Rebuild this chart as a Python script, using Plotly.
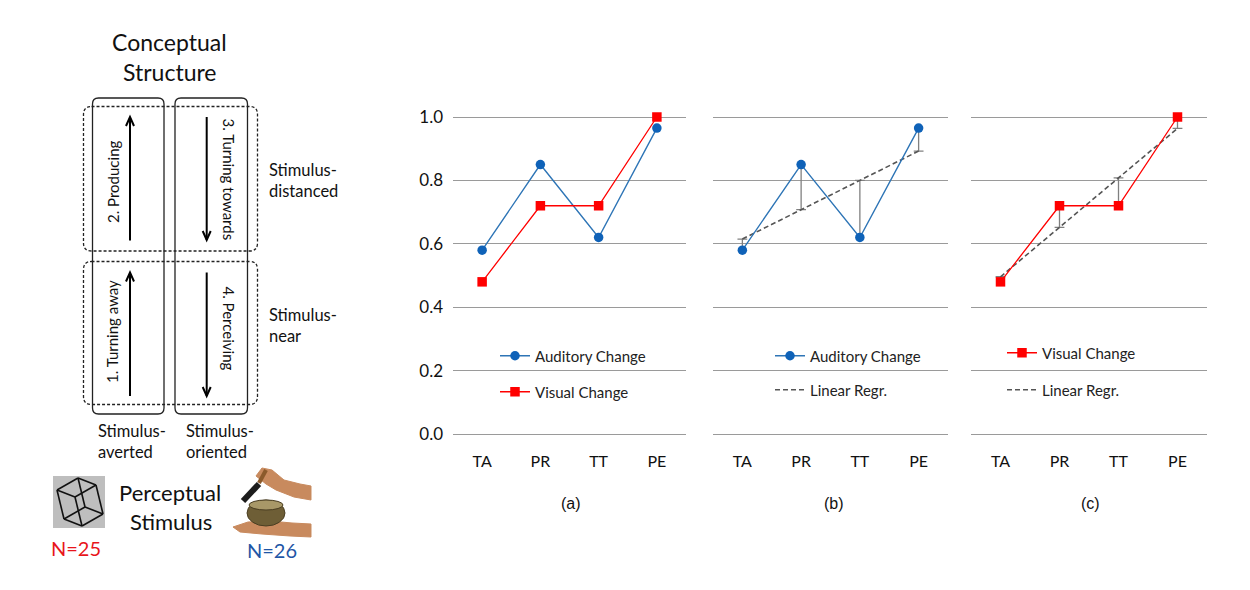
import numpy as np
import plotly.graph_objects as go

# page is 1250x590; the html body has an 8px margin, so the figure is 1234x574
PAGE_W, PAGE_H = 1250, 590
OFF = 8
W, H = PAGE_W - 2 * OFF, PAGE_H - 2 * OFF

# ---------------- data ----------------
categories = ["TA", "PR", "TT", "PE"]
auditory = [0.58, 0.85, 0.62, 0.965]
visual = [0.48, 0.72, 0.72, 1.0]
y_ticks = [0.0, 0.2, 0.4, 0.6, 0.8, 1.0]
y_tick_labels = ["0.0", "0.2", "0.4", "0.6", "0.8", "1.0"]
panel_labels = ["(a)", "(b)", "(c)"]

xpos = list(range(len(categories)))


def linfit(vals):
    k, b = np.polyfit(xpos, vals, 1)
    return [k * x + b for x in xpos]


reg_aud = linfit(auditory)
reg_vis = linfit(visual)

BLUE_L = "#2E75B6"
BLUE_M = "#0F62B8"
RED = "#FF0000"
GRID = "#9A9A9A"
FONT = "Lato"


def X(px):
    return (px - OFF) / W


def Y(py):
    return 1 - (py - OFF) / H


fig = go.Figure()

# ---------- panel (a) ----------
fig.add_trace(go.Scatter(x=xpos, y=auditory, mode="lines+markers", name="Auditory Change",
                         line=dict(color=BLUE_L, width=1.4),
                         marker=dict(symbol="circle", size=9.5, color=BLUE_M),
                         xaxis="x", yaxis="y", legend="legend", cliponaxis=False))
fig.add_trace(go.Scatter(x=xpos, y=visual, mode="lines+markers", name="Visual Change",
                         line=dict(color=RED, width=1.3),
                         marker=dict(symbol="square", size=9.5, color=RED),
                         xaxis="x", yaxis="y", legend="legend2", cliponaxis=False))


def residuals(vals, reg, xa, ya):
    xs, ys = [], []
    for x, v, r in zip(xpos, vals, reg):
        xs += [x, x, None]
        ys += [v, r, None]
    fig.add_trace(go.Scatter(x=xs, y=ys, mode="lines", line=dict(color="#808080", width=1.3),
                             showlegend=False, xaxis=xa, yaxis=ya, hoverinfo="skip"))
    fig.add_trace(go.Scatter(x=xpos, y=reg, mode="markers",
                             marker=dict(symbol="line-ew", size=7,
                                         line=dict(color="#808080", width=1.3)),
                             showlegend=False, xaxis=xa, yaxis=ya, hoverinfo="skip"))


# ---------- panel (b) ----------
residuals(auditory, reg_aud, "x2", "y2")
fig.add_trace(go.Scatter(x=xpos, y=reg_aud, mode="lines", name="Linear Regr.",
                         line=dict(color="#555555", width=1.6, dash="5px,3px"),
                         xaxis="x2", yaxis="y2", legend="legend4"))
fig.add_trace(go.Scatter(x=xpos, y=auditory, mode="lines+markers", name="Auditory Change",
                         line=dict(color=BLUE_L, width=1.4),
                         marker=dict(symbol="circle", size=9.5, color=BLUE_M),
                         xaxis="x2", yaxis="y2", legend="legend3", cliponaxis=False))

# ---------- panel (c) ----------
residuals(visual, reg_vis, "x3", "y3")
fig.add_trace(go.Scatter(x=xpos, y=reg_vis, mode="lines", name="Linear Regr.",
                         line=dict(color="#555555", width=1.6, dash="5px,3px"),
                         xaxis="x3", yaxis="y3", legend="legend6"))
fig.add_trace(go.Scatter(x=xpos, y=visual, mode="lines+markers", name="Visual Change",
                         line=dict(color=RED, width=1.3),
                         marker=dict(symbol="square", size=9.5, color=RED),
                         xaxis="x3", yaxis="y3", legend="legend5", cliponaxis=False))

ydom = [Y(449.85), Y(85.3)]
xdoms = [[X(453), X(686)], [X(713), X(948)], [X(971), X(1207)]]


def xax(dom, anchor):
    return dict(domain=dom, anchor=anchor, range=[-0.5, 3.5], tickvals=xpos, ticktext=categories,
                showgrid=False, zeroline=False, showline=False, ticks="",
                tickfont=dict(family=FONT, size=16, color="#111"), fixedrange=True)


def yax(anchor, labels):
    return dict(domain=ydom, anchor=anchor, range=[-0.05, 1.1], tickvals=y_ticks,
                ticktext=y_tick_labels, showticklabels=labels, showgrid=True,
                gridcolor=GRID, gridwidth=1.3, zeroline=False, showline=False, ticks="",
                ticklabelstandoff=9, tickfont=dict(family=FONT, size=17, color="#111"),
                fixedrange=True)


def leg(xp, yp):
    return dict(x=X(xp), y=Y(yp), xanchor="left", yanchor="middle", bgcolor="rgba(0,0,0,0)",
                font=dict(family=FONT, size=15, color="#222"), itemwidth=30,
                borderwidth=0, tracegroupgap=0)


shapes = []
annotations = []


def line_sh(x0, y0, x1, y1, width=1.5, color="black", dash=None):
    d = dict(type="line", xref="paper", yref="paper", x0=X(x0), y0=Y(y0), x1=X(x1), y1=Y(y1),
             line=dict(color=color, width=width))
    if dash:
        d["line"]["dash"] = dash
    shapes.append(d)


def path_sh(pts, close=True, fill=None, color="black", width=1.5):
    s = "M" + " L".join(f"{X(px):.5f},{Y(py):.5f}" for px, py in pts)
    if close:
        s += " Z"
    d = dict(type="path", xref="paper", yref="paper", path=s,
             line=dict(color=color, width=width))
    if fill:
        d["fillcolor"] = fill
    shapes.append(d)


def rrect(x0, y0, x1, y1, r, dash=None, width=1.3):
    def p(a, b):
        return f"{X(a):.5f},{Y(b):.5f}"
    s = (f"M{p(x0 + r, y0)} L{p(x1 - r, y0)} Q{p(x1, y0)} {p(x1, y0 + r)} "
         f"L{p(x1, y1 - r)} Q{p(x1, y1)} {p(x1 - r, y1)} L{p(x0 + r, y1)} "
         f"Q{p(x0, y1)} {p(x0, y1 - r)} L{p(x0, y0 + r)} Q{p(x0, y0)} {p(x0 + r, y0)} Z")
    d = dict(type="path", xref="paper", yref="paper", path=s,
             line=dict(color="#222", width=width))
    if dash:
        d["line"]["dash"] = dash
    shapes.append(d)


def text(t, xp, yp, size=17, anchor="center", color="#111", angle=0, family=FONT, align="left"):
    annotations.append(dict(text=t, x=X(xp), y=Y(yp), xref="paper", yref="paper",
                            xanchor=anchor, yanchor="middle", showarrow=False, align=align,
                            textangle=angle, font=dict(family=family, size=size, color=color)))


# ---------- conceptual structure diagram ----------
rrect(92.5, 98, 164, 414, 6)
rrect(175, 98, 247.5, 414, 6)
rrect(83.5, 106.5, 257.5, 251, 8, dash="3px,2px")
rrect(83.5, 261.5, 257.5, 404.5, 8, dash="3px,2px")


def arrow(xp, y_tail, y_head):
    line_sh(xp, y_tail, xp, y_head, width=2)
    s = 1 if y_head > y_tail else -1
    path_sh([(xp - 4, y_head - s * 9), (xp, y_head), (xp + 4, y_head - s * 9)], close=False, width=2)


arrow(130, 240.5, 117)
arrow(130, 396, 272.5)
arrow(206.7, 117, 240)
arrow(206.7, 272.5, 396)

text("Conceptual", 170, 42, size=23)
text("Structure", 170, 71.5, size=23)
text("2. Producing", 113, 182, size=15, angle=-90)
text("1. Turning away", 112, 332, size=15, angle=-90)
text("3. Turning towards", 228.5, 179, size=15, angle=90)
text("4. Perceiving", 228.5, 328, size=15, angle=90)
text("Stimulus-<br>distanced", 267, 180, size=16.5, anchor="left")
text("Stimulus-<br>near", 267, 325, size=16.5, anchor="left")
text("Stimulus-<br>averted", 96, 441, size=16.5, anchor="left")
text("Stimulus-<br>oriented", 184, 441, size=16.5, anchor="left")
text("Perceptual", 170, 492, size=22)
text("Stimulus", 170.5, 521, size=22)
text("N=25", 76, 547.5, size=20, color="#E8151B")
text("N=26", 272, 550, size=20, color="#1F56A6")

for i, lab in enumerate(panel_labels):
    cx = [571, 834, 1090][i]
    text(lab, cx, 503, size=16, family="Liberation Sans")

# ---------- cube icon ----------
shapes.append(dict(type="rect", xref="paper", yref="paper", x0=X(53), y0=Y(528), x1=X(105), y1=Y(476),
                   fillcolor="#BEBEBE", line=dict(width=0)))
O = np.array([57.0, 490.0])
a = np.array([21.0, -12.0])
b = np.array([18.0, 7.0])
c = np.array([7.0, 29.0])
V = {}
for i in (0, 1):
    for j in (0, 1):
        for k in (0, 1):
            V[(i, j, k)] = O + i * a + j * b + k * c
for key, p in V.items():
    for dim in range(3):
        if key[dim] == 0:
            k2 = list(key)
            k2[dim] = 1
            q = V[tuple(k2)]
            line_sh(p[0], p[1], q[0], q[1], width=1.6, color="#111")

# ---------- singing bowl picture (approximation) ----------
SKIN = "#C88A5E"
path_sh([(256, 476), (262, 468), (272, 470), (284, 480), (300, 484), (311, 486), (311, 500),
         (294, 497), (276, 490), (266, 484)], fill=SKIN, color=SKIN, width=1)
line_sh(259, 483, 266, 470, width=4, color="#8B5A2B")
line_sh(243, 501, 259, 484, width=6, color="#1C1C1C")
path_sh([(233, 527), (248, 522), (270, 521), (292, 523), (311, 524), (311, 537), (290, 536),
         (262, 534), (240, 532)], fill=SKIN, color=SKIN, width=1)
shapes.append(dict(type="circle", xref="paper", yref="paper", x0=X(247), x1=X(285), y0=Y(526), y1=Y(500),
                   fillcolor="#6E5E36", line=dict(color="#4A3E22", width=1)))
shapes.append(dict(type="circle", xref="paper", yref="paper", x0=X(249), x1=X(283), y0=Y(510), y1=Y(500),
                   fillcolor="#A89868", line=dict(color="#4A3E22", width=1)))

fig.update_layout(
    width=W, height=H, margin=dict(l=0, r=0, t=0, b=0),
    paper_bgcolor="white", plot_bgcolor="white",
    xaxis=xax(xdoms[0], "y"), yaxis=yax("x", True),
    xaxis2=xax(xdoms[1], "y2"), yaxis2=yax("x2", False),
    xaxis3=xax(xdoms[2], "y3"), yaxis3=yax("x3", False),
    legend=leg(495, 356), legend2=leg(495, 392),
    legend3=leg(770, 356), legend4=leg(770, 390),
    legend5=leg(1002, 353), legend6=leg(1002, 390),
    shapes=shapes, annotations=annotations,
    font=dict(family=FONT),
)

fig.write_html("out.html")
